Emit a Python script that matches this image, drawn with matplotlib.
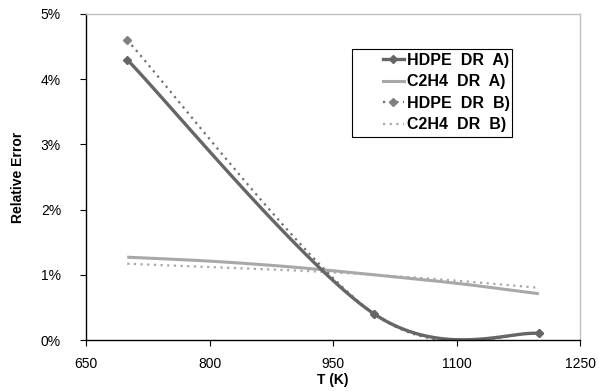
import numpy as np
import matplotlib.pyplot as plt
from matplotlib.patches import Rectangle
from matplotlib.ticker import FuncFormatter

plt.rcParams['font.family'] = ['Liberation Sans', 'DejaVu Sans']

# Data (relative error in %)
T_hdpe = [700, 1000, 1200]
hdpe_a = [4.3, 0.4, 0.1]
hdpe_b = [4.6, 0.4, 0.1]
T_c2h4 = [700, 800, 900, 1000, 1100, 1200]
c2h4_a = [1.27, 1.21, 1.12, 1.0, 0.87, 0.71]
c2h4_b = [1.17, 1.12, 1.07, 1.0, 0.91, 0.80]
labels = ['HDPE  DR  A)', 'C2H4  DR  A)', 'HDPE  DR  B)', 'C2H4  DR  B)']


def smooth(x, y, n=60):
    # Bezier-spline like the "smoothed line" option in a spreadsheet
    p = np.column_stack([x, y]).astype(float)
    ext = np.vstack([p[0], p, p[-1]])
    out = []
    for i in range(len(p) - 1):
        p0, p1 = p[i], p[i + 1]
        c0 = p0 + (ext[i + 2] - ext[i]) / 6
        c1 = p1 - (ext[i + 3] - ext[i + 1]) / 6
        t = np.linspace(0, 1, n)[:, None]
        b = (1 - t)**3 * p0 + 3 * (1 - t)**2 * t * c0 + 3 * (1 - t) * t**2 * c1 + t**3 * p1
        out.append(b)
    out = np.vstack(out)
    return out[:, 0], out[:, 1]


W, H = 599, 391
fig = plt.figure(figsize=(W / 100, H / 100), dpi=100)
ax = fig.add_axes([0.1436, 0.1304, 0.8247, 0.8338])

dark = '#666666'
light = '#a8a8a8'

xs, ys = smooth(T_c2h4, c2h4_a)
ax.plot(xs, ys, color=light, lw=2.2, solid_capstyle='butt')
xs, ys = smooth(T_c2h4, c2h4_b)
ax.plot(xs, ys, color=light, lw=1.6, ls=(0, (1, 2)))
xs, ys = smooth(T_hdpe, hdpe_b)
ax.plot(xs, ys, color='#707070', lw=1.6, ls=(0, (1, 2)))
ax.plot(T_hdpe, hdpe_b, ls='none', marker='D', ms=4, color='#808080')
xs, ys = smooth(T_hdpe, hdpe_a)
ax.plot(xs, ys, color=dark, lw=2.4, solid_capstyle='butt')
ax.plot(T_hdpe, hdpe_a, ls='none', marker='D', ms=4, color=dark)

# legend proxies
h1, = ax.plot([], [], color=dark, lw=2.4, marker='D', ms=4)
h2, = ax.plot([], [], color=light, lw=2.2)
h3, = ax.plot([], [], color='#707070', lw=1.6, ls=(0, (1, 2)), marker='D', ms=4,
              mfc='#808080', mec='#808080')
h4, = ax.plot([], [], color=light, lw=1.6, ls=(0, (1, 2)))

# legend frame (wide left padding like the original)
frame = Rectangle((352 / W, 1 - 137 / H), 160 / W, 88 / H, transform=fig.transFigure,
                  facecolor='white', edgecolor='black', lw=0.8, zorder=4)
fig.patches.append(frame)
leg = fig.legend([h1, h2, h3, h4], labels, loc='upper left',
                 bbox_to_anchor=(383 / W, 1 - 53 / H), bbox_transform=fig.transFigure,
                 frameon=False, borderpad=0, borderaxespad=0, handlelength=1.3,
                 handletextpad=0.2, labelspacing=0.4,
                 prop={'weight': 'bold', 'size': 11.5})
leg.set_zorder(5)

ax.set_xlim(650, 1250)
ax.set_ylim(0, 5)
ax.set_xticks([650, 800, 950, 1100, 1250])
ax.set_yticks([0, 1, 2, 3, 4, 5])
ax.yaxis.set_major_formatter(FuncFormatter(lambda v, p: f'{v:.0f}%'))
ax.tick_params(labelsize=10, length=4, width=0.8, color='black', direction='out')
ax.tick_params(axis='y', pad=14)
ax.tick_params(axis='x', pad=8)

for s in ['top', 'right']:
    ax.spines[s].set_color('#c0c0c0')
    ax.spines[s].set_linewidth(1.0)
for s in ['left', 'bottom']:
    ax.spines[s].set_color('black')
    ax.spines[s].set_linewidth(1.0)

ax.set_xlabel('T (K)', fontweight='bold', fontsize=10, labelpad=2)
ax.set_ylabel('Relative Error', fontweight='bold', fontsize=10, labelpad=11)

fig.savefig('out.png', dpi=100)
